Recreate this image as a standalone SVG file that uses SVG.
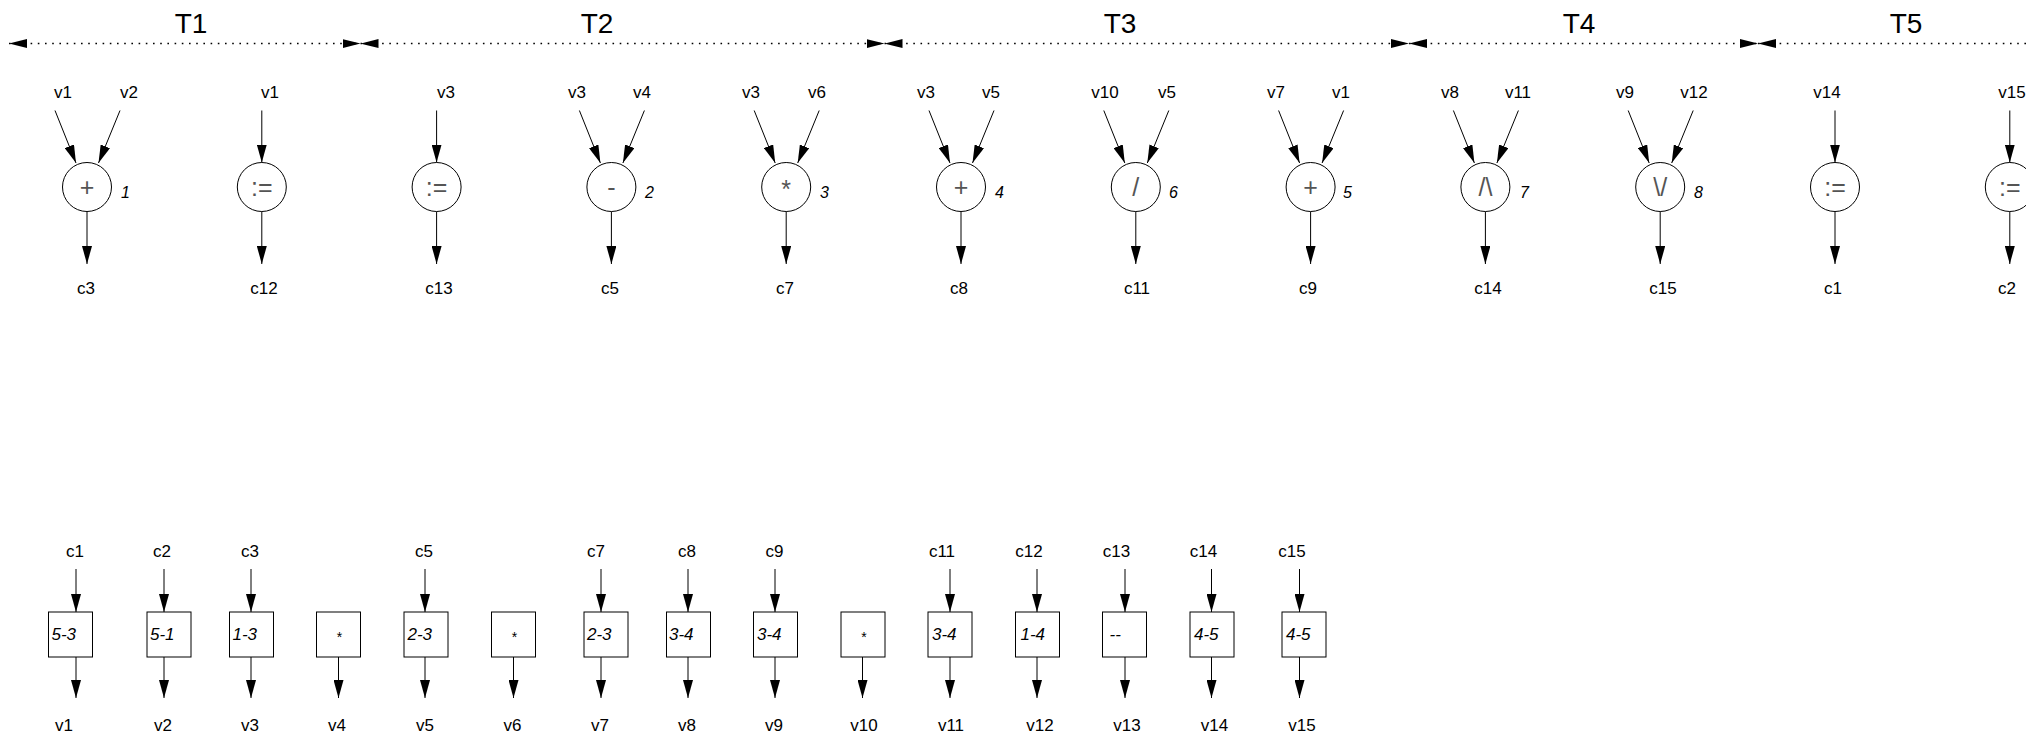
<svg xmlns="http://www.w3.org/2000/svg" width="2026" height="738" viewBox="0 0 2026 738">
<defs>
<marker id="ah" markerUnits="userSpaceOnUse" markerWidth="18" markerHeight="10" refX="18" refY="5" orient="auto"><path d="M0,0 L18,5 L0,10 z" fill="#000"/></marker>
<marker id="th" markerUnits="userSpaceOnUse" markerWidth="18" markerHeight="10" refX="18" refY="5" orient="auto"><path d="M0,0.5 L18,5 L0,9.5 z" fill="#000"/></marker>
<marker id="ts" markerUnits="userSpaceOnUse" markerWidth="18" markerHeight="10" refX="0" refY="5" orient="auto"><path d="M18,0.5 L0,5 L18,9.5 z" fill="#000"/></marker>
</defs>
<style>
text{font-family:"Liberation Sans",Arial,sans-serif;fill:#000}
.lbl{font-size:17px;text-anchor:middle}
.num{font-size:16px;font-style:italic}
.op{font-size:25px;text-anchor:middle;fill:#555}
.t{font-size:28px;text-anchor:middle}
.bt{font-size:17px;font-style:italic}
.ast{font-size:14px;text-anchor:middle}
.c{fill:#fff;stroke:#000;stroke-width:1}
.b{fill:#fff;stroke:#000;stroke-width:1}
.e{stroke:#000;stroke-width:1;fill:none;marker-end:url(#ah)}
.d{stroke:#000;stroke-width:1.6;stroke-dasharray:1.6 5.6;fill:none;marker-start:url(#ts);marker-end:url(#th)}
</style>
<rect width="2026" height="738" fill="#fff"/>
<g id="timeline">
<text class="t" x="191" y="33">T1</text>
<text class="t" x="597" y="33">T2</text>
<text class="t" x="1120" y="33">T3</text>
<text class="t" x="1579" y="33">T4</text>
<text class="t" x="1906" y="33">T5</text>
<line class="d" x1="9" y1="43.5" x2="360.5" y2="43.5"/>
<line class="d" x1="360.5" y1="43.5" x2="884.5" y2="43.5"/>
<line class="d" x1="884.5" y1="43.5" x2="1409" y2="43.5"/>
<line class="d" x1="1409" y1="43.5" x2="1758" y2="43.5"/>
<line class="d" x1="1758" y1="43.5" x2="2150" y2="43.5"/>
</g>
<g id="connectors">
<line class="e" x1="55" y1="110.5" x2="76" y2="163"/><line class="e" x1="120" y1="110.5" x2="98.5" y2="163"/><line class="e" x1="87" y1="211.5" x2="87" y2="264"/>
<line class="e" x1="261.8" y1="110.5" x2="261.8" y2="162.5"/><line class="e" x1="261.8" y1="211.5" x2="261.8" y2="264"/>
<line class="e" x1="436.6" y1="110.5" x2="436.6" y2="162.5"/><line class="e" x1="436.6" y1="211.5" x2="436.6" y2="264"/>
<line class="e" x1="579.4" y1="110.5" x2="600.4" y2="163"/><line class="e" x1="644.4" y1="110.5" x2="622.9" y2="163"/><line class="e" x1="611.4" y1="211.5" x2="611.4" y2="264"/>
<line class="e" x1="754.2" y1="110.5" x2="775.2" y2="163"/><line class="e" x1="819.2" y1="110.5" x2="797.7" y2="163"/><line class="e" x1="786.2" y1="211.5" x2="786.2" y2="264"/>
<line class="e" x1="929" y1="110.5" x2="950" y2="163"/><line class="e" x1="994" y1="110.5" x2="972.5" y2="163"/><line class="e" x1="961" y1="211.5" x2="961" y2="264"/>
<line class="e" x1="1103.8" y1="110.5" x2="1124.8" y2="163"/><line class="e" x1="1168.8" y1="110.5" x2="1147.3" y2="163"/><line class="e" x1="1135.8" y1="211.5" x2="1135.8" y2="264"/>
<line class="e" x1="1278.6" y1="110.5" x2="1299.6" y2="163"/><line class="e" x1="1343.6" y1="110.5" x2="1322.1" y2="163"/><line class="e" x1="1310.6" y1="211.5" x2="1310.6" y2="264"/>
<line class="e" x1="1453.4" y1="110.5" x2="1474.4" y2="163"/><line class="e" x1="1518.4" y1="110.5" x2="1496.9" y2="163"/><line class="e" x1="1485.4" y1="211.5" x2="1485.4" y2="264"/>
<line class="e" x1="1628.2" y1="110.5" x2="1649.2" y2="163"/><line class="e" x1="1693.2" y1="110.5" x2="1671.7" y2="163"/><line class="e" x1="1660.2" y1="211.5" x2="1660.2" y2="264"/>
<line class="e" x1="1835" y1="110.5" x2="1835" y2="162.5"/><line class="e" x1="1835" y1="211.5" x2="1835" y2="264"/>
<line class="e" x1="2009.8" y1="110.5" x2="2009.8" y2="162.5"/><line class="e" x1="2009.8" y1="211.5" x2="2009.8" y2="264"/>
<line class="e" x1="76" y1="569" x2="76" y2="612"/><line class="e" x1="76" y1="657" x2="76" y2="698"/>
<line class="e" x1="164" y1="569" x2="164" y2="612"/><line class="e" x1="164" y1="657" x2="164" y2="698"/>
<line class="e" x1="251" y1="569" x2="251" y2="612"/><line class="e" x1="251" y1="657" x2="251" y2="698"/>
<line class="e" x1="338.5" y1="657" x2="338.5" y2="698"/>
<line class="e" x1="425" y1="569" x2="425" y2="612"/><line class="e" x1="425" y1="657" x2="425" y2="698"/>
<line class="e" x1="513.5" y1="657" x2="513.5" y2="698"/>
<line class="e" x1="601" y1="569" x2="601" y2="612"/><line class="e" x1="601" y1="657" x2="601" y2="698"/>
<line class="e" x1="688" y1="569" x2="688" y2="612"/><line class="e" x1="688" y1="657" x2="688" y2="698"/>
<line class="e" x1="775" y1="569" x2="775" y2="612"/><line class="e" x1="775" y1="657" x2="775" y2="698"/>
<line class="e" x1="862.5" y1="657" x2="862.5" y2="698"/>
<line class="e" x1="950" y1="569" x2="950" y2="612"/><line class="e" x1="950" y1="657" x2="950" y2="698"/>
<line class="e" x1="1037" y1="569" x2="1037" y2="612"/><line class="e" x1="1037" y1="657" x2="1037" y2="698"/>
<line class="e" x1="1125" y1="569" x2="1125" y2="612"/><line class="e" x1="1125" y1="657" x2="1125" y2="698"/>
<line class="e" x1="1211.5" y1="569" x2="1211.5" y2="612"/><line class="e" x1="1211.5" y1="657" x2="1211.5" y2="698"/>
<line class="e" x1="1299.5" y1="569" x2="1299.5" y2="612"/><line class="e" x1="1299.5" y1="657" x2="1299.5" y2="698"/>
</g>
<g id="op1"><circle class="c" cx="87" cy="187" r="24.5"/><text class="op" x="87" y="196">+</text><text class="num" x="121" y="198">1</text><text class="lbl" x="63" y="98">v1</text><text class="lbl" x="129" y="98">v2</text><text class="lbl" x="86" y="294">c3</text></g>
<g id="op2"><circle class="c" cx="261.8" cy="187" r="24.5"/><text class="op" x="261.8" y="196">:=</text><text class="lbl" x="270" y="98">v1</text><text class="lbl" x="264" y="294">c12</text></g>
<g id="op3"><circle class="c" cx="436.6" cy="187" r="24.5"/><text class="op" x="436.6" y="196">:=</text><text class="lbl" x="446" y="98">v3</text><text class="lbl" x="439" y="294">c13</text></g>
<g id="op4"><circle class="c" cx="611.4" cy="187" r="24.5"/><text class="op" x="611.4" y="196">-</text><text class="num" x="645" y="198">2</text><text class="lbl" x="577" y="98">v3</text><text class="lbl" x="642" y="98">v4</text><text class="lbl" x="610" y="294">c5</text></g>
<g id="op5"><circle class="c" cx="786.2" cy="187" r="24.5"/><text class="op" x="786.2" y="198">*</text><text class="num" x="820" y="198">3</text><text class="lbl" x="751" y="98">v3</text><text class="lbl" x="817" y="98">v6</text><text class="lbl" x="785" y="294">c7</text></g>
<g id="op6"><circle class="c" cx="961" cy="187" r="24.5"/><text class="op" x="961" y="196">+</text><text class="num" x="995" y="198">4</text><text class="lbl" x="926" y="98">v3</text><text class="lbl" x="991" y="98">v5</text><text class="lbl" x="959" y="294">c8</text></g>
<g id="op7"><circle class="c" cx="1135.8" cy="187" r="24.5"/><text class="op" x="1135.8" y="196">/</text><text class="num" x="1169" y="198">6</text><text class="lbl" x="1105" y="98">v10</text><text class="lbl" x="1167" y="98">v5</text><text class="lbl" x="1137" y="294">c11</text></g>
<g id="op8"><circle class="c" cx="1310.6" cy="187" r="24.5"/><text class="op" x="1310.6" y="196">+</text><text class="num" x="1343" y="198">5</text><text class="lbl" x="1276" y="98">v7</text><text class="lbl" x="1341" y="98">v1</text><text class="lbl" x="1308" y="294">c9</text></g>
<g id="op9"><circle class="c" cx="1485.4" cy="187" r="24.5"/><text class="op" x="1485.4" y="196">/\</text><text class="num" x="1520" y="198">7</text><text class="lbl" x="1450" y="98">v8</text><text class="lbl" x="1518" y="98">v11</text><text class="lbl" x="1488" y="294">c14</text></g>
<g id="op10"><circle class="c" cx="1660.2" cy="187" r="24.5"/><text class="op" x="1660.2" y="196">\/</text><text class="num" x="1694" y="198">8</text><text class="lbl" x="1625" y="98">v9</text><text class="lbl" x="1694" y="98">v12</text><text class="lbl" x="1663" y="294">c15</text></g>
<g id="op11"><circle class="c" cx="1835" cy="187" r="24.5"/><text class="op" x="1835" y="196">:=</text><text class="lbl" x="1827" y="98">v14</text><text class="lbl" x="1833" y="294">c1</text></g>
<g id="op12"><circle class="c" cx="2009.8" cy="187" r="24.5"/><text class="op" x="2009.8" y="196">:=</text><text class="lbl" x="2012" y="98">v15</text><text class="lbl" x="2007" y="294">c2</text></g>
<g id="r1"><rect class="b" x="48.5" y="612" width="44" height="45"/><text class="bt" x="51.5" y="640">5-3</text><text class="lbl" x="75" y="557">c1</text><text class="lbl" x="64" y="731">v1</text></g>
<g id="r2"><rect class="b" x="147" y="612" width="44" height="45"/><text class="bt" x="150" y="640">5-1</text><text class="lbl" x="162" y="557">c2</text><text class="lbl" x="163" y="731">v2</text></g>
<g id="r3"><rect class="b" x="229.5" y="612" width="44" height="45"/><text class="bt" x="232.5" y="640">1-3</text><text class="lbl" x="250" y="557">c3</text><text class="lbl" x="250" y="731">v3</text></g>
<g id="r4"><rect class="b" x="316.5" y="612" width="44" height="45"/><text class="ast" x="339.5" y="642">*</text><text class="lbl" x="337" y="731">v4</text></g>
<g id="r5"><rect class="b" x="404" y="612" width="44" height="45"/><text class="bt" x="407.5" y="640">2-3</text><text class="lbl" x="424" y="557">c5</text><text class="lbl" x="425" y="731">v5</text></g>
<g id="r6"><rect class="b" x="491.5" y="612" width="44" height="45"/><text class="ast" x="514.5" y="642">*</text><text class="lbl" x="512.5" y="731">v6</text></g>
<g id="r7"><rect class="b" x="584" y="612" width="44" height="45"/><text class="bt" x="587" y="640">2-3</text><text class="lbl" x="596" y="557">c7</text><text class="lbl" x="600" y="731">v7</text></g>
<g id="r8"><rect class="b" x="666.5" y="612" width="44" height="45"/><text class="bt" x="669" y="640">3-4</text><text class="lbl" x="687" y="557">c8</text><text class="lbl" x="687" y="731">v8</text></g>
<g id="r9"><rect class="b" x="753.5" y="612" width="44" height="45"/><text class="bt" x="757" y="640">3-4</text><text class="lbl" x="774.5" y="557">c9</text><text class="lbl" x="774" y="731">v9</text></g>
<g id="r10"><rect class="b" x="841" y="612" width="44" height="45"/><text class="ast" x="864" y="642">*</text><text class="lbl" x="864" y="731">v10</text></g>
<g id="r11"><rect class="b" x="928" y="612" width="44" height="45"/><text class="bt" x="932" y="640">3-4</text><text class="lbl" x="942" y="557">c11</text><text class="lbl" x="951" y="731">v11</text></g>
<g id="r12"><rect class="b" x="1015.5" y="612" width="44" height="45"/><text class="bt" x="1020.5" y="640">1-4</text><text class="lbl" x="1029" y="557">c12</text><text class="lbl" x="1040" y="731">v12</text></g>
<g id="r13"><rect class="b" x="1102.5" y="612" width="44" height="45"/><text class="bt" x="1109.5" y="640">--</text><text class="lbl" x="1116.5" y="557">c13</text><text class="lbl" x="1127" y="731">v13</text></g>
<g id="r14"><rect class="b" x="1190" y="612" width="44" height="45"/><text class="bt" x="1194" y="640">4-5</text><text class="lbl" x="1203.5" y="557">c14</text><text class="lbl" x="1214.5" y="731">v14</text></g>
<g id="r15"><rect class="b" x="1282" y="612" width="44" height="45"/><text class="bt" x="1286" y="640">4-5</text><text class="lbl" x="1292" y="557">c15</text><text class="lbl" x="1302" y="731">v15</text></g>
</svg>
